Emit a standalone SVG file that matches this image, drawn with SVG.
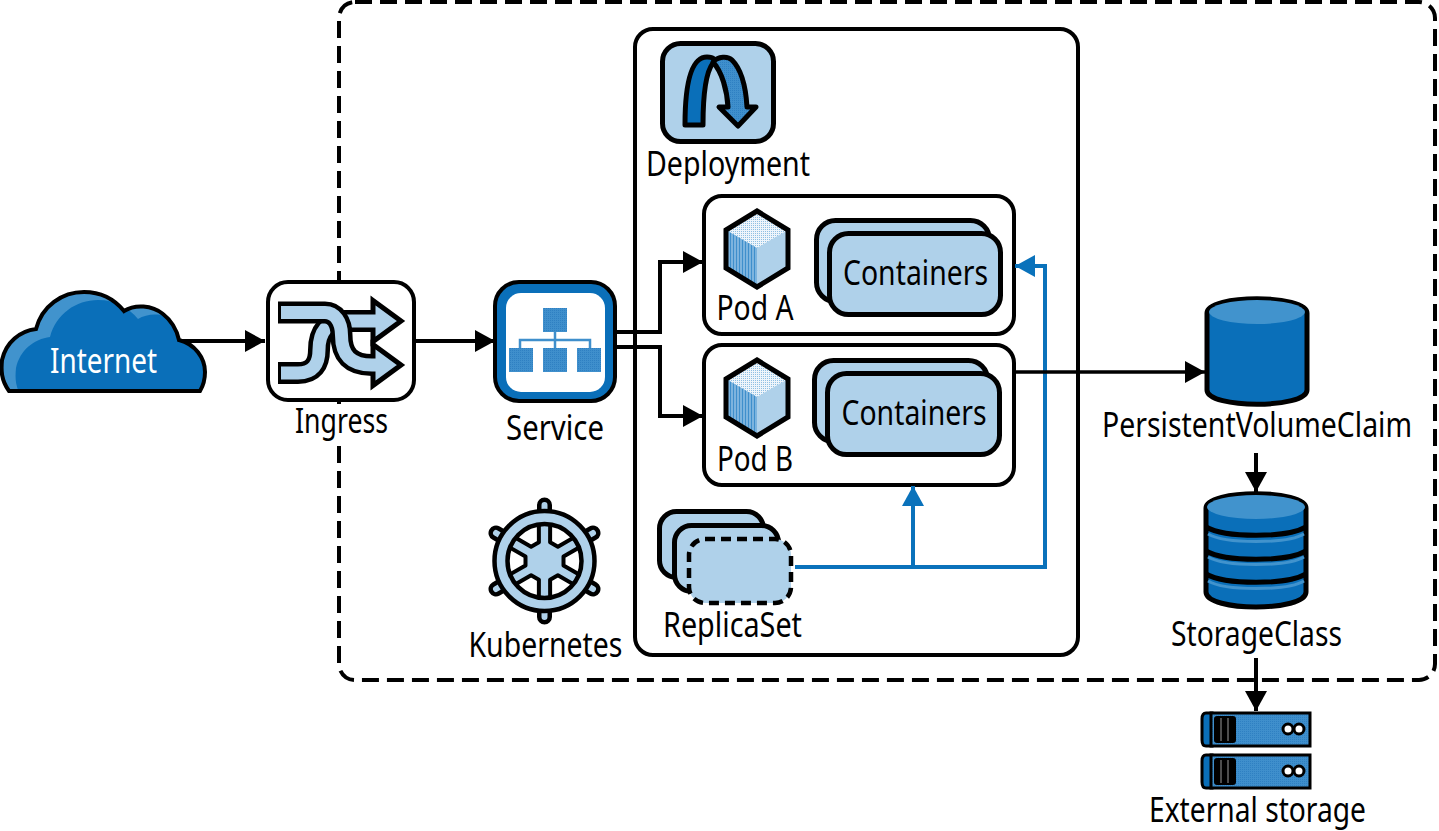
<svg xmlns="http://www.w3.org/2000/svg" width="1439" height="831" viewBox="0 0 1439 831">
<style>
.t{font-family:"Noto Sans","Liberation Sans",sans-serif;font-size:35px;fill:#000}
.box{fill:#fff;stroke:#000;stroke-width:4}
.lb{fill:#afd1ea;stroke:#000;stroke-width:5}
.k{fill:none;stroke:#000;stroke-width:4}
.kt{fill:none;stroke:#000;stroke-width:3.5}
.b{fill:none;stroke:#0a72bb;stroke-width:4}
.dark{fill:#0a6fb9}
.mid{fill:#4193cd}
.sq{fill:url(#dots)}
.cap{fill:#0a6fb9;stroke:#000;stroke-width:5;stroke-linejoin:round}
</style>
<defs>
<pattern id="dots" width="2" height="2" patternUnits="userSpaceOnUse"><rect width="2" height="2" fill="#3f8fcc"/><rect width="1" height="1" fill="#2f80c2"/></pattern>
<pattern id="stripes" width="3" height="3" patternUnits="userSpaceOnUse"><rect width="3" height="3" fill="#7db4de"/><rect width="1" height="3" fill="#3f8fcc"/></pattern>
<pattern id="pale" width="2" height="2" patternUnits="userSpaceOnUse"><rect width="2" height="2" fill="#eef5fb"/><rect width="1" height="1" fill="#8fbfe3"/></pattern>
<marker id="ah" markerUnits="userSpaceOnUse" markerWidth="20" markerHeight="22" refX="20" refY="11" orient="auto"><path d="M0 0L20 11L0 22Z" fill="#000"/></marker>
<marker id="ab" markerUnits="userSpaceOnUse" markerWidth="20" markerHeight="22" refX="20" refY="11" orient="auto"><path d="M0 0L20 11L0 22Z" fill="#0a72bb"/></marker>
<path id="cloudp" d="M9 391C1 380 1 370 2 360C6 342 20 331 36 329C42 306 62 292 84 292C102 292 115 300 124 311C135 304 152 305 163 314C172 321 177 331 179 340C195 344 205 358 205 372C205 380 203 386 200 391Z"/>
<clipPath id="cloudc"><use href="#cloudp"/></clipPath>
<clipPath id="helmc"><circle cx="544.5" cy="561" r="37"/></clipPath>
<path id="wedge" d="M19 -4.500L19 4.500L46 20L46 -20Z" fill="#fff" stroke="#000" stroke-width="4" stroke-linejoin="round"/>
<g id="podhex">
<path d="M0 -38L31 -19L31 19L0 38L-31 19L-31 -19Z" fill="#afd1ea"/>
<path d="M0 -38L31 -19L0 -1L-31 -19Z" fill="url(#pale)"/>
<path d="M-31 -19L0 -1L0 38L-31 19Z" fill="url(#stripes)"/>
<path d="M0 -38L31 -19L31 19L0 38L-31 19L-31 -19Z" fill="none" stroke="#000" stroke-width="5" stroke-linejoin="miter"/>
</g>
<g id="server">
<path d="M1212 0H1206Q1202 0 1202 6V27Q1202 33 1206 33H1212Z" class="dark" stroke="#000" stroke-width="3"/>
<rect x="1211" y="0" width="99" height="33" class="sq" stroke="#000" stroke-width="3"/>
<rect x="1214" y="3" width="22" height="27" rx="3" fill="#000"/>
<path d="M1221 5V28M1228 5V28" stroke="#999" stroke-width="1"/>
<circle cx="1288" cy="16" r="5" fill="#fff" stroke="#000" stroke-width="3"/>
<circle cx="1299" cy="16" r="5" fill="#fff" stroke="#000" stroke-width="3"/>
</g>
</defs>

<g id="cluster">
<rect x="339" y="2" width="1096" height="678" rx="16" fill="none" stroke="#000" stroke-width="4" stroke-dasharray="17 8"/>
<rect x="333" y="404" width="12" height="41" fill="#fff"/>
</g>

<g id="deployment-frame"><rect x="635" y="29" width="443" height="626" rx="18" class="box"/></g>

<g id="connectors">
<path d="M180 341H265" class="k" marker-end="url(#ah)"/>
<path d="M415 341H495" class="k" marker-end="url(#ah)"/>
<path d="M617 332H660V262H703" class="k" marker-end="url(#ah)"/>
<path d="M617 347H660V416H703" class="k" marker-end="url(#ah)"/>
<path d="M1256 453V492" class="k" marker-end="url(#ah)"/>
<path d="M1256 658V711" class="k" marker-end="url(#ah)"/>
</g>

<g id="pod-a">
<rect x="704" y="196" width="310" height="138" rx="18" class="box"/>
<use href="#podhex" x="757" y="249"/>
<text class="t" x="755" y="320" text-anchor="middle" textLength="77" lengthAdjust="spacingAndGlyphs">Pod A</text>
<rect x="816.500" y="220.500" width="173" height="81" rx="19" class="lb"/>
<rect x="829.500" y="233.500" width="171" height="81" rx="19" class="lb"/>
<text class="t" x="915.500" y="285" text-anchor="middle" textLength="145" lengthAdjust="spacingAndGlyphs">Containers</text>
</g>
<g id="pod-b">
<rect x="704" y="345" width="310" height="140" rx="18" class="box"/>
<use href="#podhex" x="757" y="398"/>
<text class="t" x="755" y="471" text-anchor="middle" textLength="76" lengthAdjust="spacingAndGlyphs">Pod B</text>
<rect x="814.500" y="360.500" width="173" height="81" rx="19" class="lb"/>
<rect x="827.500" y="373.500" width="172" height="81" rx="19" class="lb"/>
<text class="t" x="914" y="425" text-anchor="middle" textLength="145" lengthAdjust="spacingAndGlyphs">Containers</text>
</g>

<g id="connectors-2">
<path d="M795 567H1045V266H1015" class="b" marker-end="url(#ab)"/>
<path d="M913 567V486" class="b" marker-end="url(#ab)"/>
<path d="M1015 372H1205" class="kt" marker-end="url(#ah)"/>
</g>

<g id="internet">
<use href="#cloudp" class="mid"/>
<g clip-path="url(#cloudc)"><use href="#cloudp" class="dark" transform="translate(14 8)"/><rect x="100" y="345" width="110" height="50" class="dark"/></g>
<use href="#cloudp" fill="none" stroke="#000" stroke-width="4"/>
<text class="t" x="103.500" y="373" text-anchor="middle" style="fill:#fff" textLength="107" lengthAdjust="spacingAndGlyphs">Internet</text>
</g>

<g id="ingress">
<rect x="268" y="282" width="146" height="118" rx="20" class="box"/>
<path d="M278 373H298C313 373 319 364 319 350C319 332 327 321 345 321H374" fill="none" stroke="#000" stroke-width="22"/>
<path d="M373 300.500L401 321L373 341.500Z" fill="#afd1ea" stroke="#000" stroke-width="5"/>
<path d="M281 373H298C313 373 319 364 319 350C319 332 327 321 345 321H377" fill="none" stroke="#afd1ea" stroke-width="13"/>
<path d="M278 312.500H325C335 312.500 341.500 322 341.500 335C341.500 355 351 365 372 365H374" fill="none" stroke="#000" stroke-width="22"/>
<path d="M373 344.500L401 365L373 385.500Z" fill="#afd1ea" stroke="#000" stroke-width="5"/>
<path d="M281 312.500H325C335 312.500 341.500 322 341.500 335C341.500 355 351 365 372 365H377" fill="none" stroke="#afd1ea" stroke-width="13"/>
<text class="t" x="341.500" y="433" text-anchor="middle" textLength="93" lengthAdjust="spacingAndGlyphs">Ingress</text>
</g>

<g id="service">
<rect x="495" y="282" width="120" height="119" rx="24" fill="#0a6fb9" stroke="#000" stroke-width="4"/>
<rect x="506" y="293" width="99" height="99" rx="15" fill="#fff"/>
<path d="M555 332V348M520 348V340H590V348" fill="none" stroke="#3f8fcc" stroke-width="2.500"/>
<rect x="543" y="308" width="24" height="24" class="sq"/>
<rect x="509" y="348" width="24" height="24" class="sq"/>
<rect x="543" y="348" width="24" height="24" class="sq"/>
<rect x="577" y="348" width="24" height="24" class="sq"/>
<text class="t" x="555" y="440" text-anchor="middle" textLength="98" lengthAdjust="spacingAndGlyphs">Service</text>
</g>

<g id="deployment">
<rect x="662.500" y="43.500" width="111" height="98" rx="18" class="lb"/>
<path d="M685 125C685 92 689 57 707 57C714 57 716 60 713 63C706 72 703 95 703 125Z" class="dark" stroke="#000" stroke-width="5" stroke-linejoin="round"/>
<path d="M713 62C718 56 728 56 732 60C742 70 746 90 747 107H756L738 126L719 107H728C727 90 722 72 713 62Z" fill="url(#dots)" stroke="#000" stroke-width="5" stroke-linejoin="round"/>
<text class="t" x="728" y="176" text-anchor="middle" textLength="164" lengthAdjust="spacingAndGlyphs">Deployment</text>
</g>

<g id="replicaset">
<rect x="659.500" y="511.500" width="104" height="66" rx="17" class="lb"/>
<rect x="674.500" y="525.500" width="104" height="66" rx="17" class="lb"/>
<rect x="689" y="539" width="102" height="64" rx="16" fill="#afd1ea" stroke="#000" stroke-width="4.500" stroke-dasharray="10 6"/>
<text class="t" x="732.500" y="637" text-anchor="middle" textLength="139" lengthAdjust="spacingAndGlyphs">ReplicaSet</text>
</g>

<g id="kubernetes">
<g stroke-linecap="round" fill="none">
<path d="M544.500 505V512M544.500 610V617M496 533L502 536.500M593 533L587 536.500M496 589L502 585.500M593 589L587 585.500" stroke="#000" stroke-width="15"/>
<path d="M544.500 505V512M544.500 610V617M496 533L502 536.500M593 533L587 536.500M496 589L502 585.500M593 589L587 585.500" stroke="#afd1ea" stroke-width="6"/>
</g>
<circle cx="544.500" cy="561" r="50" fill="#afd1ea" stroke="#000" stroke-width="4.500"/>
<circle cx="544.500" cy="561" r="37" fill="#afd1ea"/>
<g clip-path="url(#helmc)">
<use href="#wedge" transform="translate(544.500 561)"/>
<use href="#wedge" transform="translate(544.500 561) rotate(60)"/>
<use href="#wedge" transform="translate(544.500 561) rotate(120)"/>
<use href="#wedge" transform="translate(544.500 561) rotate(180)"/>
<use href="#wedge" transform="translate(544.500 561) rotate(240)"/>
<use href="#wedge" transform="translate(544.500 561) rotate(300)"/>
</g>
<circle cx="544.500" cy="561" r="37" fill="none" stroke="#000" stroke-width="4.500"/>
<text class="t" x="545.500" y="657" text-anchor="middle" textLength="154" lengthAdjust="spacingAndGlyphs">Kubernetes</text>
</g>

<g id="pvc">
<path d="M1207 313C1207 294 1307 294 1307 313V390C1307 409 1207 409 1207 390Z" class="cap"/>
<ellipse cx="1257" cy="312" rx="48" ry="12" class="mid"/>
<text class="t" transform="translate(1257 437) scale(.8 1)" text-anchor="middle" textLength="387.500" lengthAdjust="spacingAndGlyphs">PersistentVolumeClaim</text>
</g>

<g id="storageclass">
<path d="M1206 508C1206 489 1306 489 1306 508V592C1306 612 1206 612 1206 592Z" class="cap"/>
<ellipse cx="1256" cy="507" rx="49" ry="12" class="mid"/>
<g fill="none">
<path d="M1208 534C1225 544 1287 544 1304 534M1208 557C1225 567 1287 567 1304 557M1208 581C1225 591 1287 591 1304 581" stroke="#4193cd" stroke-width="3"/>
<path d="M1206 527C1225 538 1287 538 1306 527M1206 551C1225 562 1287 562 1306 551M1206 574C1225 585 1287 585 1306 574" stroke="#000" stroke-width="5"/>
</g>
<text class="t" x="1256.500" y="646" text-anchor="middle" textLength="171" lengthAdjust="spacingAndGlyphs">StorageClass</text>
</g>

<g id="external-storage">
<use href="#server" y="713"/>
<use href="#server" y="755"/>
<text class="t" x="1257.500" y="822" text-anchor="middle" textLength="217" lengthAdjust="spacingAndGlyphs">External storage</text>
</g>
</svg>
